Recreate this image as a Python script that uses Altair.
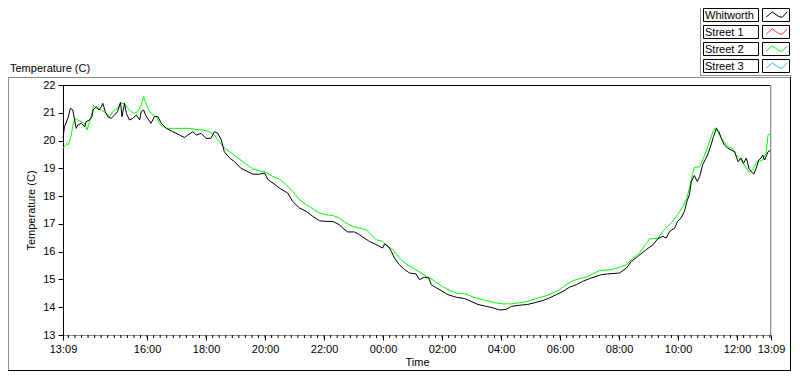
import altair as alt
import pandas as pd

# ---------------- data ----------------
series_names = ["Whitworth", "Street 1", "Street 2", "Street 3"]
series_colors = ["#000000", "#ff3c3c", "#00ff00", "#2eb2ff"]

# minutes after 13:09 (start of record) and temperature in C
whit_min = [0, 3, 10, 15, 20, 23, 27, 30, 37, 44,
            47, 54, 59, 61, 68, 73, 78, 81, 86, 91,
            98, 105, 111, 117, 120, 125, 129, 135, 142, 149,
            156, 159, 164, 168, 172, 179, 186, 193, 200, 210,
            223, 237, 247, 254, 264, 271, 281, 291, 301, 308,
            315, 322, 328, 339, 349, 362, 378, 386, 400, 410,
            417, 427, 440, 457, 467, 481, 495, 508, 522, 535,
            549, 562, 569, 579, 593, 603, 613, 623, 634, 644,
            650, 654, 661, 668, 674, 684, 695, 705, 718, 725,
            735, 744, 749, 759, 769, 783, 800, 817, 830, 844,
            861, 874, 888, 901, 912, 928, 945, 959, 976, 990,
            1003, 1017, 1030, 1044, 1057, 1071, 1084, 1095, 1108, 1132,
            1146, 1156, 1169, 1186, 1200, 1210, 1220, 1227, 1234, 1244,
            1250, 1257, 1264, 1269, 1274, 1278, 1284, 1290, 1295, 1301,
            1311, 1318, 1323, 1329, 1334, 1339, 1345, 1352, 1359, 1366,
            1373, 1379, 1384, 1390, 1395, 1400, 1405, 1410, 1415, 1420,
            1423, 1427, 1430, 1434, 1440]
whit_temp = [20.08, 20.5, 20.8, 21.16, 21.1, 20.8, 20.44, 20.56, 20.62, 20.5,
             20.68, 20.74, 20.86, 21.1, 21.22, 21.1, 21.22, 21.34, 21.04, 20.86,
             20.8, 20.92, 21.04, 21.38, 20.86, 21.34, 20.98, 20.74, 20.8, 20.92,
             20.74, 21.04, 21.1, 20.92, 20.8, 20.62, 20.86, 20.86, 20.62, 20.44,
             20.32, 20.2, 20.11, 20.2, 20.32, 20.2, 20.26, 20.08, 20.08, 20.32,
             20.26, 20.02, 19.6, 19.37, 19.24, 19.0, 18.86, 18.79, 18.79, 18.83,
             18.59, 18.47, 18.29, 18.11, 17.81, 17.57, 17.45, 17.27, 17.11, 17.09,
             17.09, 16.97, 16.85, 16.71, 16.71, 16.61, 16.49, 16.37, 16.28, 16.19,
             16.13, 16.28, 16.19, 16.01, 15.77, 15.53, 15.35, 15.23, 15.2, 14.99,
             15.08, 15.05, 14.81, 14.7, 14.6, 14.45, 14.36, 14.31, 14.21, 14.1,
             14.03, 13.98, 13.9, 13.92, 14.03, 14.07, 14.1, 14.16, 14.24, 14.34,
             14.45, 14.57, 14.72, 14.81, 14.93, 15.03, 15.11, 15.17, 15.2, 15.23,
             15.41, 15.65, 15.83, 16.07, 16.25, 16.47, 16.55, 16.49, 16.73, 16.85,
             17.09, 17.21, 17.45, 17.81, 18.05, 18.53, 18.74, 18.53, 18.71, 19.13,
             19.48, 19.84, 20.14, 20.44, 20.32, 20.08, 19.84, 19.73, 19.66, 19.6,
             19.24, 19.37, 19.18, 19.37, 19.0, 18.88, 18.79, 19.0, 19.3, 19.37,
             19.48, 19.3, 19.42, 19.6, 19.66]

st2_min = [0, 3, 8, 11, 17, 20, 25, 30, 37, 44,
           49, 54, 59, 62, 68, 78, 88, 95, 101, 111,
           118, 125, 132, 139, 145, 152, 159, 164, 169, 176,
           183, 190, 196, 203, 213, 227, 240, 257, 271, 284,
           298, 308, 318, 328, 339, 352, 366, 378, 386, 400,
           413, 427, 440, 454, 467, 481, 495, 508, 522, 535,
           549, 562, 576, 589, 603, 617, 627, 637, 650, 661,
           671, 684, 698, 711, 725, 739, 752, 766, 783, 800,
           820, 834, 847, 861, 878, 895, 912, 928, 945, 962,
           979, 996, 1010, 1023, 1037, 1050, 1064, 1078, 1091, 1115,
           1132, 1146, 1159, 1173, 1186, 1193, 1210, 1220, 1230, 1240,
           1250, 1261, 1269, 1274, 1280, 1284, 1295, 1301, 1308, 1315,
           1322, 1327, 1335, 1342, 1352, 1361, 1366, 1376, 1386, 1395,
           1403, 1411, 1423, 1430, 1434, 1440]
st2_temp = [19.73, 19.78, 19.9, 19.84, 20.2, 20.56, 20.8, 20.74, 20.68, 20.62,
            20.38, 20.68, 20.98, 21.26, 21.16, 21.1, 20.98, 20.86, 21.04, 21.16,
            21.34, 21.34, 21.16, 21.04, 20.98, 21.04, 21.28, 21.58, 21.34, 21.04,
            20.92, 20.86, 20.62, 20.5, 20.44, 20.44, 20.44, 20.44, 20.4, 20.38,
            20.32, 20.2, 19.96, 19.73, 19.6, 19.42, 19.24, 19.08, 18.98, 18.91,
            18.86, 18.7, 18.62, 18.41, 18.17, 17.87, 17.69, 17.54, 17.39, 17.33,
            17.3, 17.21, 17.03, 16.91, 16.85, 16.79, 16.61, 16.43, 16.37, 16.19,
            16.07, 15.77, 15.56, 15.41, 15.27, 15.11, 14.99, 14.81, 14.63, 14.51,
            14.48, 14.36, 14.31, 14.24, 14.16, 14.12, 14.12, 14.16, 14.21, 14.31,
            14.39, 14.51, 14.63, 14.81, 14.95, 15.03, 15.08, 15.2, 15.32, 15.35,
            15.44, 15.53, 15.76, 15.97, 16.28, 16.46, 16.48, 16.73, 16.91, 17.09,
            17.33, 17.63, 17.93, 18.29, 18.77, 19.03, 19.06, 19.3, 19.6, 19.96,
            20.32, 20.47, 20.2, 20.02, 19.78, 19.73, 19.54, 19.37, 19.12, 18.86,
            18.95, 19.24, 19.3, 19.54, 20.2, 20.26]

x_tick_labels = ["13:09", "16:00", "18:00", "20:00", "22:00", "00:00", "02:00",
                 "04:00", "06:00", "08:00", "10:00", "12:00", "13:09"]
y_ticks = [13, 14, 15, 16, 17, 18, 19, 20, 21, 22]
minor_step_min = 120 / 9  # minor tick spacing

FONT = "Liberation Sans"
START = pd.Timestamp("2020-01-01 13:09")
END = START + pd.Timedelta(minutes=1440)

# ---------------- tables ----------------
def series_df(mins, temps, name):
    return pd.DataFrame({
        "time": START + pd.to_timedelta(mins, unit="m"),
        "temp": temps,
        "series": name,
    })

df_whit = series_df(whit_min, whit_temp, "Whitworth")
df_st2 = series_df(st2_min, st2_temp, "Street 2")

major_dt = []
day = 1
prev = None
for lab in x_tick_labels:
    h, m = map(int, lab.split(":"))
    if prev is not None and (h, m) <= prev:
        day += 1
    prev = (h, m)
    major_dt.append(alt.DateTime(year=2020, month=1, date=day, hours=h, minutes=m))

anchor = pd.Timestamp("2020-01-01 16:00")
minor_times = []
k = -30
while True:
    t = anchor + pd.Timedelta(minutes=k * minor_step_min)
    k += 1
    if t < START:
        continue
    if t > END:
        break
    minor_times.append(t)
df_minor = pd.DataFrame({"time": minor_times})

W, H = 708, 250
FB = H + 35  # outer frame bottom (plot coords)

x_scale = alt.Scale(domain=[alt.DateTime(year=2020, month=1, date=1, hours=13, minutes=9),
                            alt.DateTime(year=2020, month=1, date=2, hours=13, minutes=9)])
y_scale = alt.Scale(domain=[13, 22], nice=False, zero=False)

x_axis = alt.Axis(values=major_dt, format="%H:%M", title="Time", tickSize=5,
                  tickColor="black", domainColor="#8c8c8c", labelColor="black",
                  labelFont=FONT, labelFontSize=11, labelPadding=3, labelOverlap=False,
                  labelFlush=False, titleFont=FONT, titleFontSize=11,
                  titleFontWeight="normal", titleColor="black", titlePadding=2,
                  grid=False)
y_axis = alt.Axis(values=y_ticks, title="Temperature (C)", tickSize=5, tickColor="black",
                  domainColor="black", labelColor="black", labelFont=FONT,
                  labelFontSize=11, labelPadding=3, titleFont=FONT, titleFontSize=11,
                  titleFontWeight="normal", titleColor="black", titlePadding=6,
                  grid=False)

color_scale = alt.Scale(domain=series_names, range=series_colors)


def line_layer(df):
    return alt.Chart(df).mark_line(strokeWidth=1).encode(
        x=alt.X("time:T", scale=x_scale, axis=x_axis),
        y=alt.Y("temp:Q", scale=y_scale, axis=y_axis),
        color=alt.Color("series:N", scale=color_scale, legend=None),
    )


minor_layer = alt.Chart(df_minor).mark_rule(color="black", strokeWidth=1).encode(
    x=alt.X("time:T", scale=x_scale, axis=x_axis),
    y=alt.value(H),
    y2=alt.value(H + 3),
)

one = pd.DataFrame({"k": [0]})


def seg(x1, y1, x2, y2, color, w=1):
    return alt.Chart(one).mark_rule(color=color, strokeWidth=w).encode(
        x=alt.value(x1), y=alt.value(y1), x2=alt.value(x2), y2=alt.value(y2))


deco = []
# plot border: top black, right gray
deco.append(seg(0, 0.5, W, 0.5, "black"))
deco.append(seg(W - 0.5, 0, W - 0.5, H, "#8c8c8c"))
# outer frame
deco.append(seg(-55, -7.5, 728, -7.5, "#8c8c8c"))
deco.append(seg(-54.5, -8, -54.5, FB, "#8c8c8c"))
deco.append(seg(-55, FB + 0.5, 728, FB + 0.5, "black"))
deco.append(seg(727.5, -8, 727.5, FB + 1, "black"))
# legend panel
deco.append(seg(637.5, -77, 637.5, -10, "#8c8c8c"))
deco.append(seg(637, -9.5, 728, -9.5, "#8c8c8c"))

# graph label
deco.append(alt.Chart(one).mark_text(align="left", baseline="middle", font=FONT,
                                     fontSize=11, color="black").encode(
    x=alt.value(-53), y=alt.value(-16), text=alt.value("Temperature (C)")))

# custom legend
zig = [(0.12, 0.7), (0.36, 0.3), (0.6, 0.65), (0.74, 0.72), (0.93, 0.3)]
for i, (name, col) in enumerate(zip(series_names, series_colors)):
    top = -77 + 17 * i
    deco.append(alt.Chart(one).mark_rect(fill="white", stroke="black", strokeWidth=1).encode(
        x=alt.value(640.5), x2=alt.value(695.5), y=alt.value(top + 0.5), y2=alt.value(top + 13.5)))
    deco.append(alt.Chart(one).mark_rect(fill="white", stroke="black", strokeWidth=1).encode(
        x=alt.value(699.5), x2=alt.value(726.5), y=alt.value(top + 0.5), y2=alt.value(top + 13.5)))
    deco.append(alt.Chart(one).mark_text(align="left", baseline="middle", font=FONT,
                                         fontSize=11, color="black").encode(
        x=alt.value(642), y=alt.value(top + 7.5), text=alt.value(name)))
    for (ax, ay), (bx, by) in zip(zig[:-1], zig[1:]):
        deco.append(seg(700 + 26 * ax, top + 13 * ay, 700 + 26 * bx, top + 13 * by, col))

chart = alt.layer(
    line_layer(df_st2),
    line_layer(df_whit),
    minor_layer,
    *deco,
).properties(
    width=W, height=H,
    padding={"left": 55, "top": 77, "right": 21, "bottom": 37},
    autosize=alt.AutoSizeParams(type="none"),
).configure_view(stroke=None).configure(font=FONT)

chart.save("out.html", embed_options={"renderer": "svg", "actions": False})
